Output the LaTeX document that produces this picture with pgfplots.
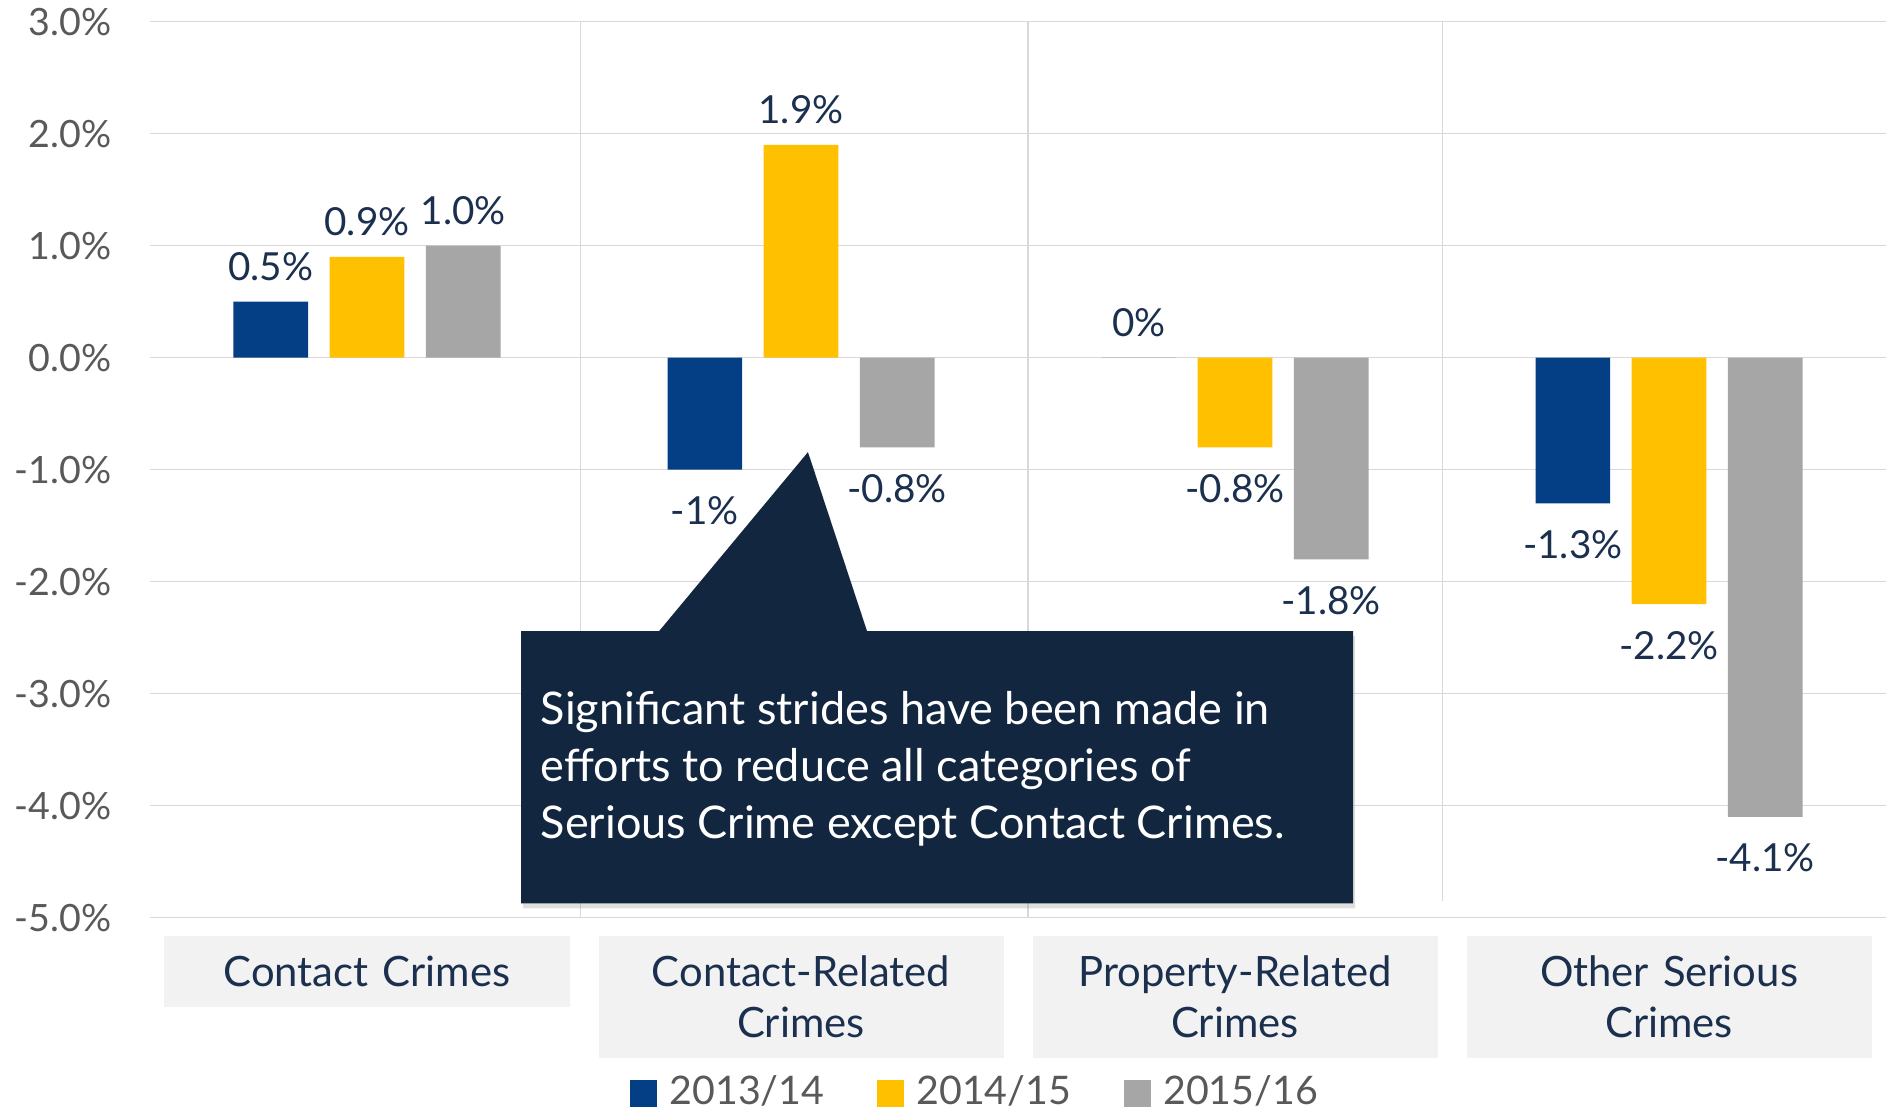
\documentclass[border=0pt]{standalone}
\usepackage{pgfplots}
\pgfplotsset{compat=1.18}
\usepackage{fontspec}
\setmainfont{Lato}
\usetikzlibrary{shadows}
\definecolor{c1}{HTML}{043E85}
\definecolor{c2}{HTML}{FFC000}
\definecolor{c3}{HTML}{A6A6A6}
\definecolor{navy}{HTML}{1B2F4E}
\definecolor{callout}{HTML}{13263F}
\definecolor{boxgray}{HTML}{F2F2F2}
\definecolor{gridgray}{HTML}{D9D9D9}
\definecolor{tickgray}{HTML}{595959}
% strut for the category boxes, sits a bit lower than \strut
\newcommand\cs{\rule[-3pt]{0pt}{14.5pt}}

\begin{document}
\begin{tikzpicture}
\begin{axis}[
    name=ax,
    scale only axis, width=17.36cm, height=8.96cm,
    ybar=0.216cm, bar width=0.746cm,
    xmin=-0.5, xmax=3.5, ymin=-5, ymax=3,
    xtick={0,1,2,3},
    xticklabels={{\cs Contact Crimes},{\cs Contact-Related\\\cs Crimes},{\cs Property-Related\\\cs Crimes},{\cs Other Serious\\\cs Crimes}},
    ytick={-5,-4,...,3},
    yticklabels={-5.0\%,-4.0\%,-3.0\%,-2.0\%,-1.0\%,0.0\%,1.0\%,2.0\%,3.0\%},
    ymajorgrids, major grid style={draw=gridgray, line width=0.4pt},
    axis line style={draw=none},
    major tick length=0pt,
    yticklabel style={font=\fontsize{10.7}{13}\selectfont, text=tickgray, xshift=-0.26cm},
    xticklabel style={font=\fontsize{11.9}{14.5}\selectfont, text=navy, fill=boxgray,
        text width=3.85cm, align=center, inner xsep=0.1cm, inner ysep=0.1cm,
        anchor=north, yshift=-0.18cm},
    point meta=explicit symbolic,
    visualization depends on={rawy \as \rawy},
    nodes near coords,
    every node near coord/.append style={font=\fontsize{11}{13}\selectfont, text=navy,
        anchor=center, yshift={\rawy<0 ? -11.7 : 10}},
    legend columns=3,
    legend style={at={(0.4768,-0.1957)}, anchor=center, draw=none, fill=none,
        font=\fontsize{11.2}{13}\selectfont, text=tickgray,
        /tikz/every odd column/.append style={column sep=0.05cm},
        /tikz/every even column/.append style={column sep=0.46cm}},
    legend image code/.code={\fill[#1] (0cm,-0.135cm) rectangle (0.27cm,0.135cm);},
]
% category separators
\draw[gridgray, line width=0.3pt] (axis cs:0.491,3) -- (axis cs:0.491,-5);
\draw[gridgray, line width=0.3pt] (axis cs:1.523,3) -- (axis cs:1.523,-5);
\draw[gridgray, line width=0.3pt] (axis cs:2.479,3) -- (axis cs:2.479,-4.85);

\addplot[fill=c1, draw=none] coordinates {(0,0.5) [0.5\%] (1,-1) [-1\%] (2,0) [0\%] (3,-1.3) [-1.3\%]};
\addplot[fill=c2, draw=none] coordinates {(0,0.9) [0.9\%] (1,1.9) [1.9\%] (2,-0.8) [-0.8\%] (3,-2.2) [-2.2\%]};
\addplot[fill=c3, draw=none] coordinates {(0,1.0) [1.0\%] (1,-0.8) [-0.8\%] (2,-1.8) [-1.8\%] (3,-4.1) [-4.1\%]};
\legend{2013/14,2014/15,2015/16}

% callout
\fill[callout, drop shadow={shadow xshift=0.02cm, shadow yshift=-0.05cm, opacity=0.25}]
    (axis cs:0.355,-2.441) -- (axis cs:0.673,-2.441) -- (axis cs:1.016,-0.843)
    -- (axis cs:1.152,-2.441) -- (axis cs:2.272,-2.441) -- (axis cs:2.272,-4.871)
    -- (axis cs:0.355,-4.871) -- cycle;
\node[anchor=west, align=left, text=white, font=\fontsize{12.8}{16.2}\selectfont, inner sep=0pt]
    at (axis cs:0.399,-3.674)
    {Significant strides have been made in\\efforts to reduce all categories of\\Serious Crime except Contact Crimes.};
\end{axis}
\pgfresetboundingbox
\path[use as bounding box] ([shift={(-1.5cm,-1.953cm)}]ax.south west) rectangle ++(18.86cm,11.13cm);
\end{tikzpicture}
\end{document}
